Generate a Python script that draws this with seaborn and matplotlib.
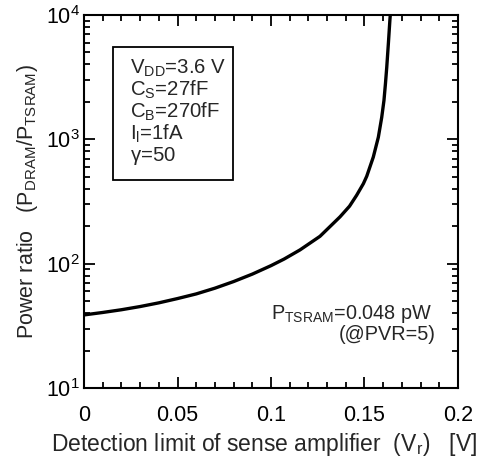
import matplotlib
matplotlib.use("Agg")
import matplotlib.pyplot as plt
import seaborn as sns
import pandas as pd
from matplotlib.patches import Rectangle
from matplotlib.ticker import MultipleLocator, LogLocator, NullFormatter

# values
vr = [0.0, 0.01, 0.02, 0.03, 0.04, 0.05, 0.06, 0.07, 0.08, 0.09, 0.10,
      0.107, 0.1155, 0.1262, 0.1369, 0.142, 0.1458, 0.1494, 0.1512, 0.1547,
      0.1574, 0.1592, 0.1604, 0.1612, 0.1619, 0.1628, 0.1636, 0.1641]
ratio = [38.7, 40.5, 42.6, 45.2, 48.4, 52.4, 57.1, 63.5, 71.8, 82.4, 96.4,
         108.9, 129.0, 166.0, 238.0, 290.0, 355.0, 440.0, 505.0, 720.0,
         1040.0, 1500.0, 2050.0, 2800.0, 3800.0, 6000.0, 9200.0, 11500.0]

x_ticks = [0, 0.05, 0.1, 0.15, 0.2]
x_tick_labels = ["0", "0.05", "0.1", "0.15", "0.2"]
params = [r"V$_{\mathrm{DD}}$=3.6 V", r"C$_{\mathrm{S}}$=27fF",
          r"C$_{\mathrm{B}}$=270fF", r"I$_{\mathrm{l}}$=1fA", r"$\gamma$=50"]

sns.set_style("ticks")
plt.rcParams["font.family"] = ["Liberation Sans", "DejaVu Sans"]
plt.rcParams["mathtext.fontset"] = "custom"
plt.rcParams["mathtext.rm"] = "Liberation Sans"
plt.rcParams["mathtext.it"] = "Liberation Sans:italic"
plt.rcParams["mathtext.default"] = "regular"

df = pd.DataFrame({"vr": vr, "ratio": ratio})

fig = plt.figure(figsize=(4.85, 4.61), dpi=100)
ax = fig.add_axes([84 / 485, 1 - 388 / 461, 374 / 485, 373 / 461])
sns.lineplot(data=df, x="vr", y="ratio", color="black", linewidth=2.4, ax=ax)

ax.set_yscale("log")
ax.set_xlim(0, 0.2)
ax.set_ylim(10, 1e4)
ax.set_xticks(x_ticks)
ax.set_xticklabels(x_tick_labels)
ax.xaxis.set_minor_locator(MultipleLocator(0.01))
ax.yaxis.set_major_locator(LogLocator(base=10, numticks=10))
ax.yaxis.set_minor_locator(LogLocator(base=10, subs=range(2, 10), numticks=20))
ax.yaxis.set_minor_formatter(NullFormatter())
ax.tick_params(which="both", direction="in", top=True, right=True,
               labelsize=15.5, width=1.3, colors="black")
ax.tick_params(which="major", length=8)
ax.tick_params(which="minor", length=4)
ax.tick_params(axis="x", which="major", pad=12)
ax.tick_params(axis="y", which="major", pad=3)
for s in ax.spines.values():
    s.set_linewidth(1.5)
    s.set_color("black")

ax.set_xlabel(r"Detection limit of sense amplifier  (V$_{\mathrm{r}}$)   [V]",
              fontsize=16.5, labelpad=4)
ax.xaxis.set_label_coords(0.481, -0.115)
ax.set_ylabel(r"Power ratio   (P$_{\mathrm{DRAM}}$/P$_{\mathrm{TSRAM}}$)",
              fontsize=15.5, labelpad=4)

ax.add_patch(Rectangle((0.0775, 0.558), 0.3205, 0.356, transform=ax.transAxes,
                       fill=False, edgecolor="black", linewidth=1.3))
for i, t in enumerate(params):
    ax.text(0.123, 0.842 - i * 0.0585, t, transform=ax.transAxes,
            fontsize=14.7, va="baseline", ha="left")

ax.text(0.932, 0.185, r"P$_{\mathrm{TSRAM}}$=0.048 pW", transform=ax.transAxes,
        fontsize=14.3, va="baseline", ha="right")
ax.text(0.941, 0.129, "(@PVR=5)", transform=ax.transAxes,
        fontsize=14.3, va="baseline", ha="right")

fig.savefig("out.png", dpi=100)
